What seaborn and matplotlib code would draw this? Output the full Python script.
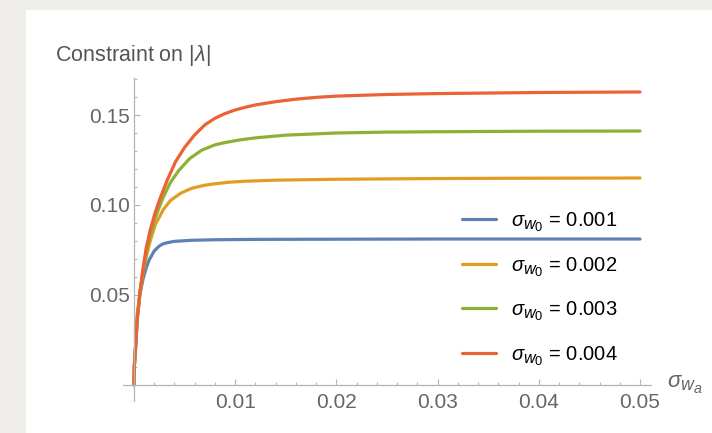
import matplotlib
matplotlib.use("Agg")
import matplotlib.pyplot as plt
from matplotlib.ticker import FixedLocator, FuncFormatter
from matplotlib.patches import Rectangle
import seaborn as sns
import pandas as pd
try:
    import matplotlib._mathtext as _mt
    _mt.SHRINK_FACTOR = 0.8
except Exception:
    pass

# ---- data ----
series_labels = [r"$\sigma_{w_0}$ = 0.001", r"$\sigma_{w_0}$ = 0.002",
                 r"$\sigma_{w_0}$ = 0.003", r"$\sigma_{w_0}$ = 0.004"]
colors = ["#5E81B5", "#E19C24", "#8FB032", "#EB6235"]

blue_x = [0, 0.00004, 0.00013, 0.00033, 0.0006, 0.0009, 0.0012, 0.0015, 0.002, 0.0025,
          0.0029, 0.0035, 0.004, 0.0057, 0.008, 0.012, 0.02, 0.03, 0.04, 0.05]
blue_y = [0, 0.011, 0.019, 0.037, 0.051, 0.059, 0.065, 0.0695, 0.0745, 0.0772,
          0.0785, 0.0793, 0.0798, 0.0804, 0.0807, 0.0809, 0.0810, 0.0811, 0.0811, 0.0811]

orange_x = [0, 0.00004, 0.00013, 0.00033, 0.0006, 0.0009, 0.0012, 0.0016, 0.0021, 0.0029,
            0.0036, 0.0046, 0.0057, 0.007, 0.008, 0.0095, 0.011, 0.014, 0.02, 0.03,
            0.04, 0.05]
orange_y = [0, 0.011, 0.019, 0.038, 0.052, 0.063, 0.071, 0.080, 0.089, 0.0975,
            0.1025, 0.1065, 0.1093, 0.1110, 0.1118, 0.1127, 0.1132, 0.1138, 0.1143, 0.1147,
            0.1149, 0.1150]

green_x = [0, 0.00004, 0.00013, 0.00033, 0.0006, 0.0009, 0.0012, 0.0016, 0.0021, 0.0029,
           0.0036, 0.0044, 0.0055, 0.0067, 0.008, 0.009, 0.0105, 0.012, 0.015, 0.02,
           0.025, 0.03, 0.04, 0.05]
green_y = [0, 0.011, 0.019, 0.038, 0.052, 0.064, 0.073, 0.083, 0.093, 0.1045,
           0.1125, 0.1190, 0.1258, 0.1305, 0.1334, 0.1347, 0.1362, 0.1373, 0.1388, 0.1400,
           0.1405, 0.1407, 0.1410, 0.1411]

red_x = [0, 0.00004, 0.00013, 0.00033, 0.0006, 0.0009, 0.0012, 0.0016, 0.0021, 0.0026,
         0.0033, 0.0041, 0.005, 0.006, 0.007, 0.008, 0.009, 0.010, 0.011, 0.012,
         0.014, 0.016, 0.018, 0.02, 0.025, 0.03, 0.04, 0.05]
red_y = [0, 0.011, 0.019, 0.038, 0.052, 0.065, 0.076, 0.086, 0.096, 0.104,
         0.114, 0.124, 0.132, 0.139, 0.1445, 0.1482, 0.1508, 0.1528, 0.1543, 0.1556,
         0.1574, 0.1588, 0.1598, 0.1605, 0.1614, 0.1619, 0.1625, 0.1628]

x_major = [0.01, 0.02, 0.03, 0.04, 0.05]
y_major = [0.05, 0.10, 0.15]

frames = []
for lab, xs, ys in zip(series_labels, [blue_x, orange_x, green_x, red_x],
                       [blue_y, orange_y, green_y, red_y]):
    frames.append(pd.DataFrame({"x": xs, "y": ys, "series": lab}))
df = pd.concat(frames, ignore_index=True)

# ---- style ----
sns.set_style("white")
plt.rcParams["font.family"] = ["Liberation Sans", "DejaVu Sans"]
plt.rcParams["mathtext.fontset"] = "custom"
plt.rcParams["mathtext.rm"] = "Liberation Sans"
plt.rcParams["mathtext.it"] = "Liberation Sans:italic"
plt.rcParams["mathtext.bf"] = "Liberation Sans:bold"

W, H = 712, 433
fig = plt.figure(figsize=(W / 100, H / 100), dpi=100)
fig.patch.set_facecolor("#EFEEEA")
fig.patches.append(Rectangle((26 / W, 0), 1 - 26 / W, 1 - 10 / H,
                             transform=fig.transFigure, facecolor="white",
                             edgecolor="none", zorder=-5))

x0, x1 = -0.0012, 0.052
y0, y1 = -0.010, 0.172
px_per_x = 10120.0
px_per_y = 1800.0
left_px = 134 + x0 * px_per_x
right_px = 134 + x1 * px_per_x
bot_px = 385 - y0 * px_per_y
top_px = 385 - y1 * px_per_y
ax = fig.add_axes([left_px / W, 1 - bot_px / H, (right_px - left_px) / W,
                   (bot_px - top_px) / H])
ax.set_zorder(2)
ax.set_facecolor("none")

sns.lineplot(data=df, x="x", y="y", hue="series", hue_order=series_labels,
             palette=colors, linewidth=2.3, ax=ax, legend=True, sort=False)

ax.set_xlim(x0, x1)
ax.set_ylim(y0, y1)

axis_col = "#b5b5b5"
for s in ["top", "right"]:
    ax.spines[s].set_visible(False)
ax.spines["left"].set_position(("data", 0))
ax.spines["bottom"].set_position(("data", 0))
ax.spines["left"].set_bounds(-0.009, 0.1706)
ax.spines["bottom"].set_bounds(-0.0011, 0.0511)
for s in ["left", "bottom"]:
    ax.spines[s].set_color(axis_col)
    ax.spines[s].set_linewidth(0.9)

ax.xaxis.set_major_locator(FixedLocator(x_major))
ax.yaxis.set_major_locator(FixedLocator(y_major))
ax.xaxis.set_minor_locator(FixedLocator([0.002 * i for i in range(1, 26)]))
ax.yaxis.set_minor_locator(FixedLocator([0.01 * i for i in range(1, 18)]))
ax.xaxis.set_major_formatter(FuncFormatter(lambda v, p: f"{v:.2f}"))
ax.yaxis.set_major_formatter(FuncFormatter(lambda v, p: f"{v:.2f}"))
ax.tick_params(axis="both", which="both", direction="in", color=axis_col,
               width=0.8, labelcolor="#666666", labelsize=15,
               bottom=True, left=True, top=False, right=False)
ax.tick_params(axis="both", which="major", length=4)
ax.tick_params(axis="both", which="minor", length=2.3)
ax.tick_params(axis="x", which="major", pad=6)
ax.tick_params(axis="y", which="major", pad=3)
ax.set_xlabel("")
ax.set_ylabel("")

fig.text(55 / W, 1 - 55 / H, r"Constraint on $|\lambda|$", fontsize=15.5,
         color="#555555", ha="left", va="center")
ax.text(0.0527, 0.0002, r"$\sigma_{w_a}$", fontsize=16, color="#666666",
        ha="left", va="center", clip_on=False)

leg = ax.legend(loc="upper left", bbox_to_anchor=(462 / W, 1 - 210 / H),
                bbox_transform=fig.transFigure, frameon=False, fontsize=14.5,
                handlelength=1.7, handletextpad=0.75, labelspacing=1.03,
                borderpad=0, borderaxespad=0)
for line in leg.get_lines():
    line.set_linewidth(2.3)
for t in leg.get_texts():
    t.set_color("black")

fig.savefig("out.png", dpi=100, facecolor=fig.get_facecolor())
